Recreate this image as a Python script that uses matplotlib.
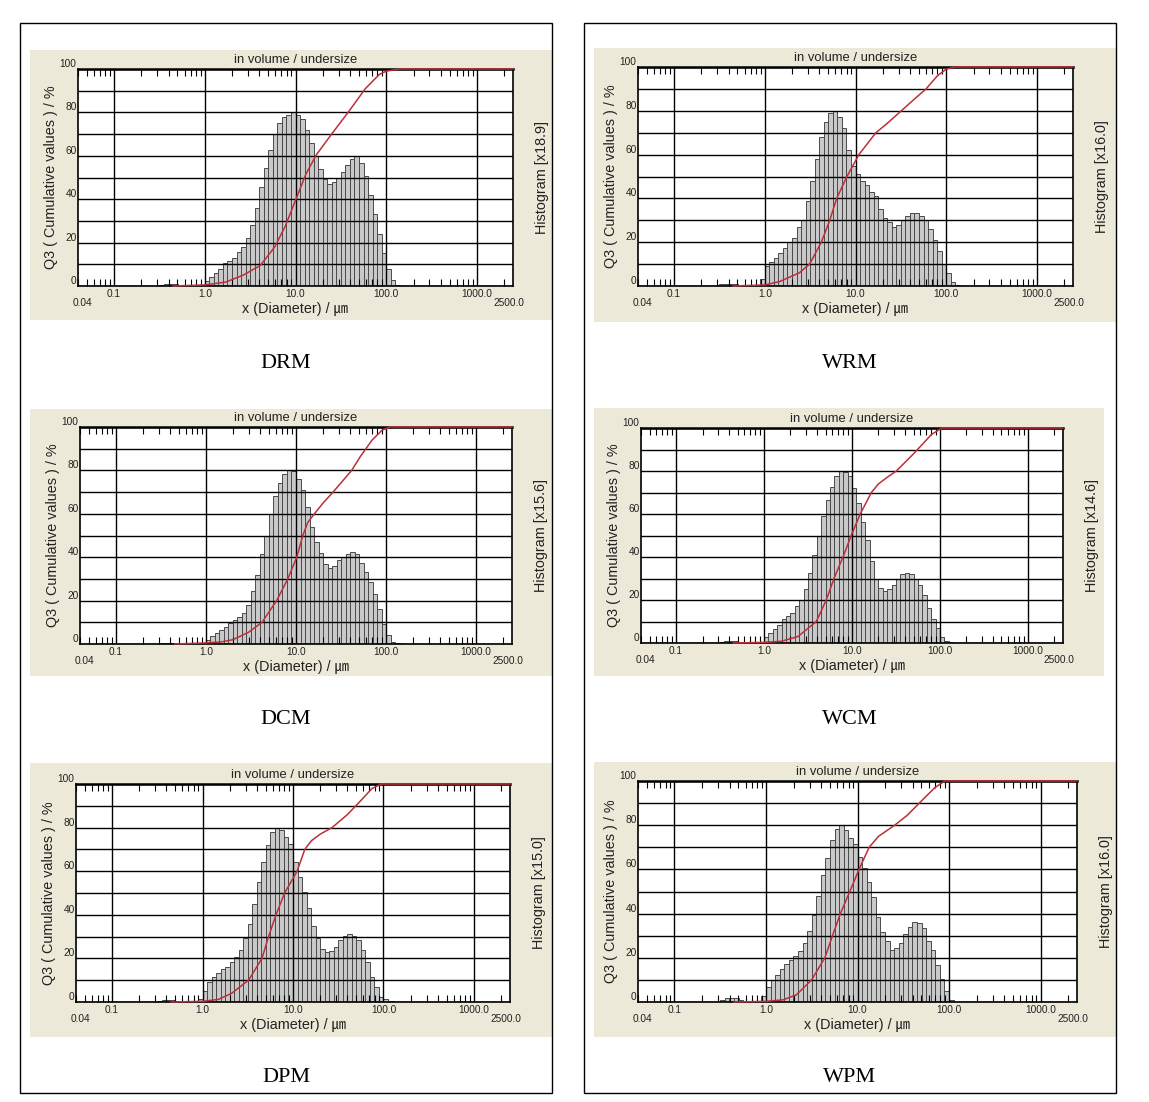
import numpy as np
import matplotlib
matplotlib.use("Agg")
import matplotlib.pyplot as plt
from matplotlib.patches import Rectangle
from matplotlib.ticker import LogLocator, NullFormatter
from matplotlib.transforms import ScaledTranslation, blended_transform_factory

plt.rcParams["font.family"] = ["Liberation Sans", "Noto Sans CJK JP", "DejaVu Sans"]

W, H = 1149, 1102
BEIGE = "#ece9d8"
TEXT = "#222222"

# instrument size classes (20 per decade), 0.316 .. 158 um
class_edges = 10 ** (np.arange(-10, 44) / 20)

# histogram q3 (scaled to the left axis), first 10 values are the fines below 1 um
q3_drm = [0.6, 0.9, 1.0, 1.0, 0.6, 0, 0, 0, 0, 0.3,
          2.5, 4, 6, 8, 10.5, 11.5, 13, 15.5, 18, 22, 28, 36, 45.5, 54.5, 62.5,
          70, 75, 78, 79, 80, 79, 77, 72, 66, 60, 54, 49.5, 47, 47.8, 49.6,
          52.5, 55.6, 58.5, 60, 56.8, 50.7, 41.8, 33, 24, 15, 8, 2.8, 0.5]
q3_wrm = [0.8, 1, 1, 0.8, 0.5, 0, 0, 0, 0, 3,
          9, 11, 13, 15, 17.5, 20, 22, 27, 30, 39, 48, 58, 68, 75, 79,
          80, 77, 72, 62, 55, 51, 48, 46, 43, 41, 35, 31, 29, 27, 28,
          30, 32, 33.5, 33.5, 32, 30, 26, 21, 16, 10, 6, 2, 0.5]
q3_dcm = [0.3, 0.5, 0.5, 0.3, 0, 0, 0, 0, 0, 0,
          2, 3.5, 5, 6.5, 8, 9.5, 11, 12.5, 14.5, 18, 24.5, 32, 41.5, 50, 60,
          68, 74, 78.5, 80, 79.5, 76, 71, 63, 54, 47, 42, 37, 35, 36, 38.5,
          40, 41.5, 42.5, 41.5, 37.5, 33, 28.5, 23, 16, 9, 4, 1, 0.3]
q3_wcm = [0.5, 1, 1, 0.8, 0.5, 0, 0, 0, 0, 0.5,
          2.7, 4.5, 6.5, 8.5, 11, 12.5, 14, 17, 20, 25, 32.5, 41, 50, 59, 66.5,
          72.5, 77.5, 80, 79.5, 77.5, 72, 65, 56.5, 48, 38, 30, 25.5, 24.3, 25, 27,
          30, 32, 32.5, 32, 30, 27, 22.5, 16.5, 11, 7, 2.6, 1, 0.3]
q3_dpm = [0.5, 1, 1, 0.8, 0.5, 0.3, 0, 0, 0, 1.5,
          5, 9, 11.5, 13.5, 15.3, 16, 18.4, 20.6, 23.7, 29.3, 36, 45, 55, 64, 72,
          78, 80, 79, 75.5, 72.5, 64, 57.3, 50.5, 43, 35, 29.3, 24.5, 23, 23.3, 25.2,
          28.3, 30.3, 31.3, 30.5, 28.3, 23.7, 18.4, 11.5, 7, 2.3, 1.5, 0.5, 0]
q3_wpm = [1, 2, 2, 1.8, 1, 0.3, 0, 0, 0, 2.5,
          6.8, 9.8, 12.3, 15, 17, 18.8, 21, 23, 26.6, 32, 39.4, 48, 57.4, 65.3, 73.2,
          78.5, 80, 77.7, 74, 71.7, 65.7, 60.5, 54.4, 47.7, 38.6, 31.9, 27.4, 23.6, 24.4, 26.6,
          30.7, 33.8, 36, 35.6, 33.4, 27.4, 23.6, 16.8, 10.5, 4.8, 1, 0, 0]

# cumulative Q3 curves
cum_x_drm = [0.45, 1.0, 1.7, 2.65, 4.1, 5.9, 7.7, 10, 13, 17, 24, 38, 59, 84, 100, 140, 2500]
cum_y_drm = [0, 0.5, 1.8, 5, 9.5, 18, 27.5, 39.5, 51.5, 60.5, 69, 80, 91, 97.5, 99, 100, 100]
cum_x_wrm = [0.45, 1.0, 1.45, 2.4, 3.12, 4.2, 5.2, 6.2, 8.05, 10.9, 16.8, 22, 32, 45, 60, 80, 100, 125, 2500]
cum_y_wrm = [0, 0.5, 2, 6, 10, 20, 30, 40, 50, 60, 70, 74, 80, 85.5, 90, 96, 99, 100, 100]
cum_x_dcm = [0.45, 1, 1.5, 2, 3, 4.2, 6.1, 8.1, 10.2, 11.9, 13.5, 16, 20, 25.8, 41.5, 52, 70, 90, 110, 2500]
cum_y_dcm = [0, 0.5, 1, 2, 5.5, 10, 20, 30, 40, 50, 56, 60, 65, 70, 80, 86.5, 94, 98.5, 100, 100]
cum_x_wcm = [0.45, 1.0, 1.57, 2.43, 3.93, 5.1, 6.24, 7.9, 9.8, 12.4, 16.6, 20, 25, 31.9, 40, 50, 65, 80, 105, 2500]
cum_y_wcm = [0, 0.3, 0.8, 3, 10, 20, 30, 40, 50, 60, 70, 74, 77, 80, 84, 88, 93, 97, 100, 100]
cum_x_dpm = [0.45, 1.0, 1.5, 2.1, 3.23, 4.54, 5.37, 6.49, 8.08, 11.1, 13.5, 16, 20, 27, 40, 55, 75, 95, 2500]
cum_y_dpm = [0, 0.3, 1.2, 4, 10, 20, 30, 40, 50, 60, 70, 74, 77, 80, 86, 92, 98, 100, 100]
cum_x_wpm = [0.45, 1.0, 1.55, 2.16, 3.15, 4.4, 5.33, 6.5, 8.24, 10.4, 13.4, 17, 25.5, 35, 50, 70, 90, 2500]
cum_y_wpm = [0, 0.3, 1, 3.3, 10, 20, 30, 40, 50, 60, 70, 75, 80, 84.5, 91, 97, 100, 100]

x_ticks = [0.1, 1, 10, 100, 1000]
x_tick_labels = ["0.1", "1.0", "10.0", "100.0", "1000.0"]
y_ticks = [0, 20, 40, 60, 80, 100]

samples = ["DRM", "WRM", "DCM", "WCM", "DPM", "WPM"]
hist_scales = ["x18.9", "x16.0", "x15.6", "x14.6", "x15.0", "x16.0"]
q3_all = [q3_drm, q3_wrm, q3_dcm, q3_wcm, q3_dpm, q3_wpm]
cum_all = [(cum_x_drm, cum_y_drm), (cum_x_wrm, cum_y_wrm), (cum_x_dcm, cum_y_dcm),
           (cum_x_wcm, cum_y_wcm), (cum_x_dpm, cum_y_dpm), (cum_x_wpm, cum_y_wpm)]

# pixel layout: background, plot frame, caption centre
layout = [
    ((30, 50, 552, 320), (78, 69, 513, 286), (286, 363)),
    ((594, 48, 1116, 322), (638, 67, 1073, 286), (850, 363)),
    ((30, 409, 552, 676), (80, 427, 512, 644), (286, 720)),
    ((594, 408, 1104, 676), (641, 428, 1063, 643), (850, 720)),
    ((30, 763, 552, 1037), (76, 784, 510, 1002), (286, 1077)),
    ((594, 762, 1116, 1037), (638, 781, 1077, 1002), (850, 1077)),
]


def px_rect(x0, y0, x1, y1):
    return [x0 / W, 1 - y1 / H, (x1 - x0) / W, (y1 - y0) / H]


def shift(fig, dx, dy):
    return ScaledTranslation(dx / 100, dy / 100, fig.dpi_scale_trans)


def draw_panel(fig, ax, q3, cum, scale):
    ax.set_xscale("log")
    ax.set_xlim(0.04, 2500)
    ax.set_ylim(0, 100)
    ax.set_axisbelow(False)

    q3 = np.asarray(q3, dtype=float)
    keep = q3 > 0
    ax.bar(class_edges[:-1][keep], q3[keep], width=np.diff(class_edges)[keep],
           align="edge", color="#c9c9c9", edgecolor="#4a4a4a", linewidth=0.7, zorder=1)

    ax.plot(cum[0], cum[1], color="#bb2f3a", linewidth=1.1, zorder=4, clip_on=False)

    ax.set_xticks(x_ticks, labels=x_tick_labels)
    ax.xaxis.set_minor_locator(LogLocator(base=10, subs=np.arange(2, 10), numticks=40))
    ax.xaxis.set_minor_formatter(NullFormatter())
    ax.set_yticks(y_ticks, labels=[str(v) for v in y_ticks])
    ax.set_yticks([10, 30, 50, 70, 90], minor=True)

    ax.grid(True, which="major", color="black", linewidth=1.0)
    ax.grid(True, axis="y", which="minor", color="black", linewidth=1.0)

    ax.tick_params(axis="x", which="major", length=0, pad=2.5, labelsize=7.3, labelcolor=TEXT)
    ax.tick_params(axis="x", which="minor", direction="in", length=5, width=0.8,
                   top=True, bottom=True, color="black")
    ax.tick_params(axis="y", which="both", length=0, pad=1, labelsize=7.3, labelcolor=TEXT)
    for lab in ax.get_yticklabels():
        lab.set_verticalalignment("bottom")

    for side in ax.spines.values():
        side.set_color("black")
        side.set_linewidth(1.2)
    ax.spines["top"].set_linewidth(1.8)

    edge = blended_transform_factory(ax.transData, ax.transAxes)
    ax.text(0.04, 0, "0.04", transform=edge + shift(fig, 4, -17),
            ha="center", va="center", fontsize=7.3, color=TEXT)
    ax.text(2500, 0, "2500.0", transform=edge + shift(fig, -4, -17),
            ha="center", va="center", fontsize=7.3, color=TEXT)

    ax.text(0.5, 1, "in volume / undersize", transform=ax.transAxes + shift(fig, 0, 9),
            ha="center", va="center", fontsize=9.4, color=TEXT)
    ax.text(0.5, 0, "x (Diameter) / ㎛", transform=ax.transAxes + shift(fig, 0, -23),
            ha="center", va="center", fontsize=10.4, color=TEXT)
    ax.text(0, 0.5, "Q3 ( Cumulative values ) / %", transform=ax.transAxes + shift(fig, -27, 0),
            ha="center", va="center", rotation=90, fontsize=10.4, color=TEXT)
    ax.text(1, 0.5, "Histogram [" + scale + "]", transform=ax.transAxes + shift(fig, 29, 0),
            ha="center", va="center", rotation=90, fontsize=10.4, color=TEXT)


fig = plt.figure(figsize=(W / 100, H / 100), dpi=100, facecolor="white")

for bx in [(20, 23, 552, 1093), (584, 23, 1116, 1093)]:
    fig.add_artist(Rectangle((bx[0] / W, 1 - bx[3] / H), (bx[2] - bx[0]) / W, (bx[3] - bx[1]) / H,
                             transform=fig.transFigure, fill=False, edgecolor="black",
                             linewidth=1.0, zorder=-1))

for name, scale, q3, cum, (bg, frame, cap) in zip(samples, hist_scales, q3_all, cum_all, layout):
    fig.add_artist(Rectangle((bg[0] / W, 1 - bg[3] / H), (bg[2] - bg[0]) / W, (bg[3] - bg[1]) / H,
                             transform=fig.transFigure, facecolor=BEIGE, edgecolor="none", zorder=-2))
    ax = fig.add_axes(px_rect(*frame))
    ax.set_facecolor("white")
    draw_panel(fig, ax, q3, cum, scale)
    fig.text(cap[0] / W, 1 - cap[1] / H, name, family="Liberation Serif", fontsize=16,
             ha="center", va="center", color="black")

fig.savefig("out.png", dpi=100, facecolor="white")
plt.close(fig)
